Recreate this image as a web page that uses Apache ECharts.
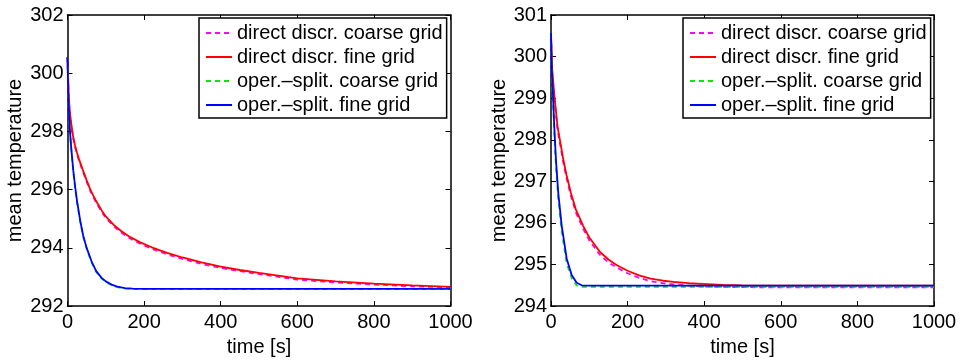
<!DOCTYPE html>
<html>
<head>
<meta charset="utf-8">
<script src="https://cdn.jsdelivr.net/npm/echarts@6/dist/echarts.min.js"></script>
<style>
html,body{margin:0;padding:0;background:#fff;}
#chart{width:960px;height:362px;}
</style>
</head>
<body>
<div id="chart"></div>
<script>
// ---------- data ----------
const seriesNames = ['direct discr. coarse grid', 'direct discr. fine grid', 'oper.\u2013split. coarse grid', 'oper.\u2013split. fine grid'];
const xTicks = [0, 200, 400, 600, 800, 1000];
const yTicksLeft = [292, 294, 296, 298, 300, 302];
const yTicksRight = [294, 295, 296, 297, 298, 299, 300, 301];

// left panel
const tLeftDirect = [0, 1.3, 3, 5, 7, 10, 15, 20, 25, 30, 40, 50, 60, 75, 90, 100, 120, 140, 160, 190, 220, 260, 300, 350, 400, 450, 500, 600, 700, 800, 900, 1000];
const leftDirectFine = [300.55, 300.0, 299.3, 298.85, 298.57, 298.25, 297.8, 297.5, 297.26, 297.05, 296.68, 296.32, 295.99, 295.6, 295.27, 295.08, 294.8, 294.58, 294.4, 294.19, 294.02, 293.83, 293.67, 293.5, 293.36, 293.24, 293.14, 292.95, 292.85, 292.77, 292.71, 292.66];
const leftDirectCoarse = [300.55, 299.96, 299.26, 298.8, 298.52, 298.2, 297.75, 297.45, 297.21, 297.0, 296.63, 296.27, 295.94, 295.55, 295.22, 295.03, 294.75, 294.53, 294.35, 294.14, 293.97, 293.78, 293.62, 293.45, 293.31, 293.2, 293.1, 292.91, 292.81, 292.74, 292.68, 292.64];
const tLeftSplit = [0, 2, 4, 6.5, 10, 15, 20, 25, 33, 41, 50, 63, 75, 89, 100, 115, 130, 150, 170, 200, 300, 400, 600, 800, 1000];
const leftSplitFine = [300.55, 299.3, 298.6, 298.0, 297.4, 296.67, 296.1, 295.6, 294.95, 294.42, 294.0, 293.53, 293.2, 292.97, 292.85, 292.74, 292.67, 292.62, 292.6, 292.59, 292.59, 292.59, 292.59, 292.59, 292.59];
const leftSplitCoarse = [300.55, 299.25, 298.55, 297.95, 297.35, 296.62, 296.05, 295.55, 294.9, 294.38, 293.96, 293.5, 293.17, 292.95, 292.83, 292.72, 292.65, 292.6, 292.58, 292.58, 292.58, 292.58, 292.58, 292.58, 292.58];

// right panel
const tRightDirect = [0, 3, 8.7, 17, 25, 32, 40, 52, 65, 84, 100, 128, 150, 171, 200, 230, 260, 293, 320, 360, 406, 450, 500, 600, 800, 1000];
const rightDirectFine = [300.53, 299.7, 299.07, 298.32, 297.9, 297.53, 297.17, 296.72, 296.32, 295.93, 295.65, 295.3, 295.12, 294.99, 294.85, 294.74, 294.66, 294.61, 294.58, 294.55, 294.53, 294.51, 294.5, 294.49, 294.49, 294.49];
const rightDirectCoarse = [300.53, 299.65, 299.0, 298.24, 297.83, 297.46, 297.1, 296.65, 296.25, 295.86, 295.58, 295.23, 295.05, 294.93, 294.79, 294.68, 294.6, 294.55, 294.52, 294.49, 294.47, 294.46, 294.455, 294.45, 294.45, 294.45];
const tRightSplit = [0, 2, 5.2, 8.7, 13, 19, 28, 41, 54, 67, 80, 100, 200, 400, 600, 800, 1000];
const rightSplitFine = [300.57, 299.7, 299.07, 298.29, 297.5, 296.72, 295.93, 295.14, 294.75, 294.56, 294.5, 294.49, 294.49, 294.49, 294.49, 294.49, 294.49];
const rightSplitCoarse = [300.57, 299.6, 298.95, 298.15, 297.35, 296.57, 295.8, 295.03, 294.67, 294.5, 294.46, 294.46, 294.46, 294.46, 294.46, 294.46, 294.46];

// ---------- chart ----------
const FONT = '"Liberation Sans", Arial, Helvetica, sans-serif';
const colors = ['#ff00ff', '#ff0000', '#00ee00', '#0000ff'];
const dashed = [true, false, true, false];

function pairs(t, v) { return t.map((x, i) => [x, v[i]]); }

function xAx(gi, bottom, ticks) {
  return {
    type: 'value', gridIndex: gi, position: bottom ? 'bottom' : 'top',
    min: ticks[0], max: ticks[ticks.length - 1], interval: ticks[1] - ticks[0],
    name: bottom ? 'time [s]' : '', nameLocation: 'middle', nameGap: 17,
    nameTextStyle: { color: '#000', fontSize: 20, fontFamily: FONT },
    axisLine: { show: true, onZero: false, lineStyle: { color: '#000', width: 1.5 } },
    axisTick: { show: true, inside: true, length: 5, lineStyle: { color: '#000', width: 1 } },
    axisLabel: { show: bottom, color: '#000', fontSize: 20, fontFamily: FONT, margin: 6, formatter: v => String(v) },
    splitLine: { show: false }
  };
}
function yAx(gi, left, ticks, gap) {
  return {
    type: 'value', gridIndex: gi, position: left ? 'left' : 'right',
    min: ticks[0], max: ticks[ticks.length - 1], interval: ticks[1] - ticks[0],
    name: left ? 'mean temperature' : '', nameLocation: 'middle', nameGap: gap,
    nameTextStyle: { color: '#000', fontSize: 20, fontFamily: FONT },
    axisLine: { show: true, onZero: false, lineStyle: { color: '#000', width: 1.5 } },
    axisTick: { show: true, inside: true, length: 5, lineStyle: { color: '#000', width: 1 } },
    axisLabel: { show: left, color: '#000', fontSize: 20, fontFamily: FONT, margin: 4, formatter: v => String(v) },
    splitLine: { show: false }
  };
}

function line(name, idx, data, xi, yi) {
  return {
    type: 'line', name: name, data: data, xAxisIndex: xi, yAxisIndex: yi,
    symbol: 'none', smooth: false, z: 2 + idx,
    lineStyle: { color: colors[idx], width: 1.8, type: dashed[idx] ? [5, 4] : 'solid' },
    itemStyle: { color: colors[idx] }
  };
}

function legendAt(left) {
  return {
    orient: 'vertical', left: left, top: 18,
    data: seriesNames,
    backgroundColor: '#fff', borderColor: '#000', borderWidth: 1.5, borderRadius: 0,
    padding: [5, 4, 3, 6], itemGap: 4, itemWidth: 26, itemHeight: 14,
    itemStyle: { opacity: 0 },
    textStyle: { color: '#000', fontSize: 20, fontFamily: FONT, lineHeight: 20 },
    selectedMode: false
  };
}

const chart = echarts.init(document.getElementById('chart'), null, { renderer: 'canvas' });
chart.setOption({
  animation: false,
  backgroundColor: '#fff',
  grid: [
    { left: 67.5, top: 15, width: 383, height: 297 },
    { left: 551, top: 15, width: 383, height: 297 }
  ],
  xAxis: [xAx(0, true, xTicks), xAx(0, false, xTicks), xAx(1, true, xTicks), xAx(1, false, xTicks)],
  yAxis: [yAx(0, true, yTicksLeft, 42), yAx(0, false, yTicksLeft, 0), yAx(1, true, yTicksRight, 41), yAx(1, false, yTicksRight, 0)],
  legend: [legendAt(199), legendAt(683)],
  series: [
    line(seriesNames[0], 0, pairs(tLeftDirect, leftDirectCoarse), 0, 0),
    line(seriesNames[1], 1, pairs(tLeftDirect, leftDirectFine), 0, 0),
    line(seriesNames[2], 2, pairs(tLeftSplit, leftSplitCoarse), 0, 0),
    line(seriesNames[3], 3, pairs(tLeftSplit, leftSplitFine), 0, 0),
    line(seriesNames[0], 0, pairs(tRightDirect, rightDirectCoarse), 2, 2),
    line(seriesNames[1], 1, pairs(tRightDirect, rightDirectFine), 2, 2),
    line(seriesNames[2], 2, pairs(tRightSplit, rightSplitCoarse), 2, 2),
    line(seriesNames[3], 3, pairs(tRightSplit, rightSplitFine), 2, 2)
  ]
});
</script>
</body>
</html>
